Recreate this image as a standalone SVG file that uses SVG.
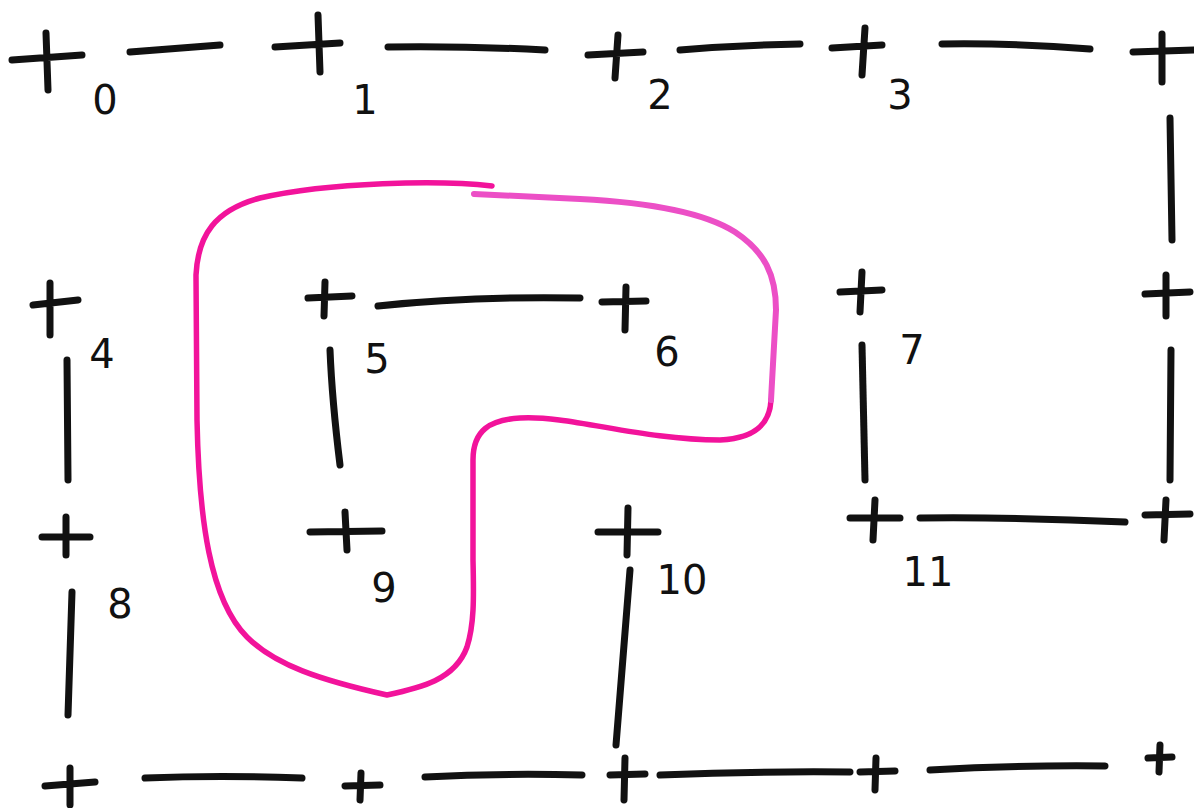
<svg xmlns="http://www.w3.org/2000/svg" width="1194" height="808" viewBox="0 0 1194 808">
<style>
.w{stroke:#111;stroke-width:7;stroke-linecap:round;fill:none}
.c path{stroke:#111;stroke-width:7;stroke-linecap:round;fill:none}
.c text{font-family:"DejaVu Sans","Liberation Sans",sans-serif;font-size:40px;fill:#111;text-anchor:middle}
.pk{stroke:#f2139b;stroke-width:5.5;fill:none;stroke-linecap:round}
.pk2{stroke:#ec4fc6;stroke-width:6;fill:none;stroke-linecap:round}
</style>
<rect width="1194" height="808" fill="#fff"/>
<g id="walls">
<path class="w" d="M130 52 L220 45"/>
<path class="w" d="M388 47 Q470 46 545 50"/>
<path class="w" d="M680 50 Q740 45 800 44"/>
<path class="w" d="M942 44 Q1020 43 1090 49"/>
<path class="w" d="M1170 118 L1172 240"/>
<path class="w" d="M1171 350 L1170 480"/>
<path class="w" d="M378 306 Q470 296 580 298"/>
<path class="w" d="M330 350 Q332 400 340 465"/>
<path class="w" d="M67 360 L68 480"/>
<path class="w" d="M72 592 L68 715"/>
<path class="w" d="M862 345 L865 480"/>
<path class="w" d="M920 518 Q1020 517 1125 522"/>
<path class="w" d="M630 570 L616 745"/>
<path class="w" d="M145 778 Q220 775 302 778"/>
<path class="w" d="M425 777 Q500 773 582 775"/>
<path class="w" d="M660 775 Q760 771 850 772"/>
<path class="w" d="M930 770 Q1020 765 1105 766"/>
</g>
<g id="loop">
<path class="pk" d="M492 186 C440 180 330 182 260 198 C215 210 198 235 196 275 L197 420 C199 520 210 600 247 637 C275 665 320 680 387 695 C420 688 455 680 467 647 C474 625 474 600 473 560 L473 460 C473 430 490 420 520 418 C570 415 640 440 720 440 C760 438 770 420 771 400"/>
<path class="pk2" d="M474 194 L580 199 C640 202 700 210 735 232 C765 252 776 275 776 310 L771 400"/>
</g>
<g id="n0" class="c"><path d="M12 60 L82 55 M46 33 L48 90"/><text x="105" y="114">0</text></g>
<g id="n1" class="c"><path d="M275 47 L340 43 M318 15 L320 72"/><text x="365" y="114">1</text></g>
<g id="n2" class="c"><path d="M588 55 L643 52 M618 35 L615 78"/><text x="660" y="109">2</text></g>
<g id="n3" class="c"><path d="M832 48 L882 45 M865 28 L862 75"/><text x="900" y="109">3</text></g>
<g id="n3b" class="c"><path d="M1133 52 L1194 50 M1162 34 L1162 82"/></g>
<g id="n4" class="c"><path d="M33 305 L78 300 M50 283 L50 335"/><text x="102" y="368">4</text></g>
<g id="n5" class="c"><path d="M308 298 L352 296 M325 282 L324 316"/><text x="377" y="373">5</text></g>
<g id="n6" class="c"><path d="M602 302 L646 301 M626 287 L625 330"/><text x="667" y="366">6</text></g>
<g id="n7" class="c"><path d="M840 292 L882 290 M862 272 L860 312"/><text x="912" y="364">7</text></g>
<g id="n7b" class="c"><path d="M1145 294 L1190 292 M1166 275 L1166 316"/></g>
<g id="n8" class="c"><path d="M42 537 L90 537 M66 517 L66 555"/><text x="120" y="618">8</text></g>
<g id="n9" class="c"><path d="M310 532 L382 531 M345 512 L347 550"/><text x="384" y="602">9</text></g>
<g id="n10" class="c"><path d="M598 532 L658 532 M628 508 L627 555"/><text x="682" y="594">10</text></g>
<g id="n11" class="c"><path d="M850 518 L900 518 M875 500 L873 540"/><text x="928" y="586">11</text></g>
<g id="n11b" class="c"><path d="M1145 515 L1190 514 M1166 500 L1164 540"/></g>
<g id="n12" class="c"><path d="M45 786 L95 782 M70 768 L70 805"/></g>
<g id="n13" class="c"><path d="M345 786 L380 785 M361 773 L360 800"/></g>
<g id="n14" class="c"><path d="M610 775 L645 774 M625 758 L624 800"/></g>
<g id="n15" class="c"><path d="M860 772 L895 771 M876 758 L875 790"/></g>
<g id="n16" class="c"><path d="M1148 758 L1172 757 M1160 745 L1159 772"/></g>
</svg>
